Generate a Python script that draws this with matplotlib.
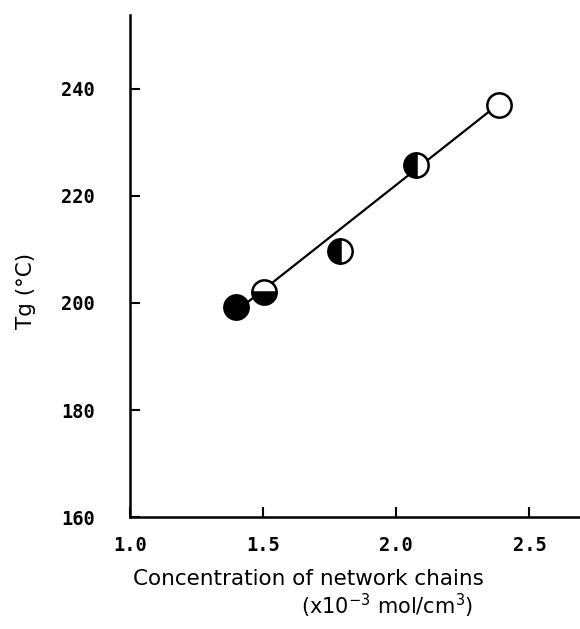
import matplotlib
matplotlib.use("Agg")
import matplotlib.pyplot as plt

conc = [1.40, 1.505, 1.79, 2.075, 2.385]
tg = [199.2, 202.0, 209.8, 225.8, 237.0]
fills = ["full", "bottom", "left", "left", "none"]
line_x = [1.40, 2.385]
line_y = [198.5, 237.2]
xticks = [1.0, 1.5, 2.0, 2.5]
yticks = [160, 180, 200, 220, 240]

fig = plt.figure(figsize=(5.8, 6.29), dpi=100)
ax = fig.add_axes([0.224, 0.178, 0.776, 0.798])
ax.plot(line_x, line_y, color="black", lw=1.6, zorder=1)
for x, y, f in zip(conc, tg, fills):
    if f == "none":
        ax.plot(x, y, "o", ms=17.5, mfc="white", mec="black", mew=1.8, zorder=3)
    else:
        ax.plot(x, y, "o", ms=17.5, fillstyle=f, mfc="black", mfcalt="white",
                mec="black", mew=1.8, zorder=3)

ax.set_xlim(1.0, 2.69)
ax.set_ylim(160, 253.8)
ax.spines["top"].set_visible(False)
ax.spines["right"].set_visible(False)
for s in ["left", "bottom"]:
    ax.spines[s].set_linewidth(1.8)
ax.set_xticks(xticks)
ax.set_yticks(yticks)
ax.set_xticklabels(["1.0", "1.5", "2.0", "2.5"])
ax.set_yticklabels([str(v) for v in yticks])
ax.tick_params(direction="in", length=7, width=1.5, labelsize=13.5, pad=14)
ax.tick_params(axis="y", pad=25)
for lab in ax.get_xticklabels() + ax.get_yticklabels():
    lab.set_family("DejaVu Sans Mono")
    lab.set_fontweight("bold")

fig.text(0.045, 0.538, "Tg (°C)", rotation=90, fontsize=15.5, ha="center", va="center")
fig.text(0.531, 0.08, "Concentration of network chains", fontsize=15.5, ha="center", va="center")
fig.text(0.667, 0.036, r"(x10$^{-3}$ mol/cm$^{3}$)", fontsize=15, ha="center", va="center")

fig.savefig("out.png", dpi=100)
